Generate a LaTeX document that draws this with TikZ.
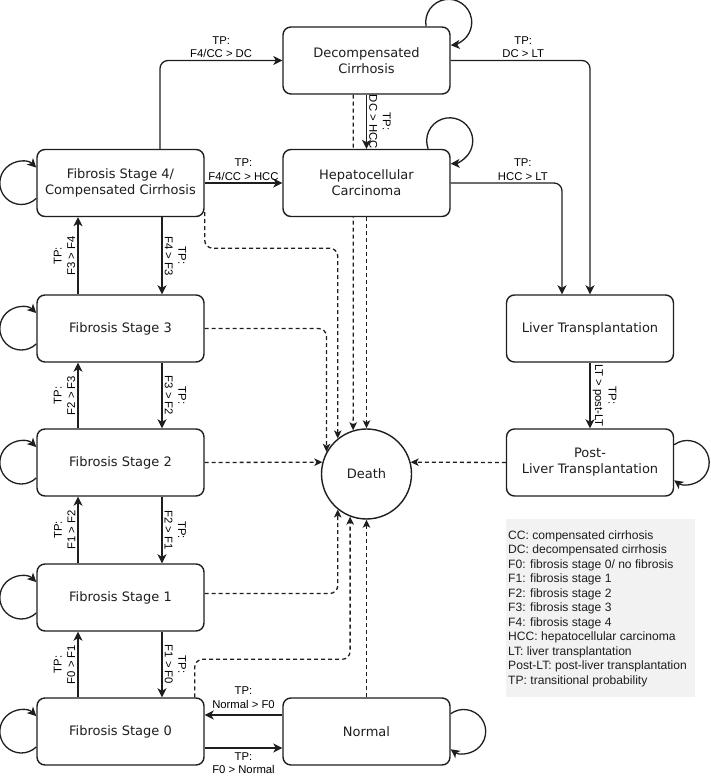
\documentclass[tikz,border=0pt]{standalone}
\usepackage{fontspec}
\setmainfont{DejaVu Sans}
\newfontfamily\lblfont{Liberation Sans}
\usetikzlibrary{arrows.meta,calc}
\definecolor{ink}{RGB}{30,30,30}
\definecolor{legendgray}{RGB}{242,242,242}
\pgfdeclarelayer{background}
\pgfsetlayers{background,main}
\newcommand\myleftloop[1]{\draw[arr] ($(#1.west)+(-15,0)+(-45.8:21.5)$) arc[start angle=-45.8, end angle=-314.2, radius=21.5];}
\newcommand\myrightloop[1]{\draw[arr] ($(#1.east)+(13,0)+(126.2:22)$) arc[start angle=126.2, end angle=-126.2, radius=22];}
\begin{document}
\begin{tikzpicture}[x=1pt,y=1pt,
  box/.style={draw=ink, fill=white, line width=1.4pt, rounded corners=8pt, minimum width=167pt, minimum height=67pt, inner sep=0pt, align=center, text=ink, font=\fontsize{13}{16}\selectfont},
  arr/.style={draw=ink, line width=1.3pt, -{Stealth[length=9pt,width=9pt,inset=2.5pt]}, rounded corners=8pt},
  dsh/.style={draw=ink, line width=1.3pt, -{Stealth[length=8pt,width=7.5pt,inset=2pt]}, rounded corners=8pt, dash pattern=on 4pt off 3pt},
  lbl/.style={font=\lblfont\fontsize{11.3}{13.5}\selectfont, align=center, inner sep=2pt, text=black}]
\useasboundingbox (0,0) rectangle (710,776);

% states
\node[box] (dc) at (366.5,715.5) {Decompensated\\Cirrhosis};
\node[box] (hcc) at (366.5,593) {Hepatocellular\\Carcinoma};
\node[box] (f4) at (120.5,593) {Fibrosis Stage 4/\\Compensated Cirrhosis};
\node[box] (f3) at (120.5,447.5) {Fibrosis Stage 3};
\node[box] (f2) at (120.5,313.5) {Fibrosis Stage 2};
\node[box] (f1) at (120.5,178.5) {Fibrosis Stage 1};
\node[box] (f0) at (120.5,44.5) {Fibrosis Stage 0};
\node[box] (lt) at (590,447.5) {Liver Transplantation};
\node[box] (plt) at (590,313.5) {Post-\\Liver Transplantation};
\node[box] (nor) at (366.5,44.5) {Normal};
\node[circle, draw=ink, fill=white, line width=1.4pt, minimum size=90pt, inner sep=0pt, text=ink, font=\fontsize{13}{16}\selectfont] (death) at (366.5,302) {Death};

% top transitions
\draw[arr] ($(f4.north)+(39.5,0)$) |- (dc.west) node[lbl, pos=0.75, above] {TP:\\F4/CC > DC};
\draw[arr] (f4.east) -- (hcc.west) node[lbl, midway, above] {TP:\\F4/CC > HCC};
\draw[arr] (dc.south) -- (hcc.north) node[lbl, midway, rotate=-90, anchor=south] {TP:\\DC > HCC};
\draw[arr] (dc.east) -| (lt.north) node[lbl, pos=0.26, above] {TP:\\DC > LT};
\draw[arr] (hcc.east) -| ($(lt.north)+(-28,0)$) node[lbl, pos=0.324, above] {TP:\\HCC > LT};
\draw[arr] (lt.south) -- (plt.north) node[lbl, midway, rotate=-90, anchor=south] {TP:\\LT > post-LT};

% fibrosis column
\draw[arr] ($(f3.north)+(-42.5,0)$) -- ($(f4.south)+(-42.5,0)$) node[lbl, midway, rotate=90, anchor=south] {TP:\\F3 > F4};
\draw[arr] ($(f4.south)+(41.5,0)$) -- ($(f3.north)+(41.5,0)$) node[lbl, midway, rotate=-90, anchor=south] {TP:\\F4 > F3};
\draw[arr] ($(f2.north)+(-42.5,0)$) -- ($(f3.south)+(-42.5,0)$) node[lbl, midway, rotate=90, anchor=south] {TP:\\F2 > F3};
\draw[arr] ($(f3.south)+(41.5,0)$) -- ($(f2.north)+(41.5,0)$) node[lbl, midway, rotate=-90, anchor=south] {TP:\\F3 > F2};
\draw[arr] ($(f1.north)+(-42.5,0)$) -- ($(f2.south)+(-42.5,0)$) node[lbl, midway, rotate=90, anchor=south] {TP:\\F1 > F2};
\draw[arr] ($(f2.south)+(41.5,0)$) -- ($(f1.north)+(41.5,0)$) node[lbl, midway, rotate=-90, anchor=south] {TP:\\F2 > F1};
\draw[arr] ($(f0.north)+(-42.5,0)$) -- ($(f1.south)+(-42.5,0)$) node[lbl, midway, rotate=90, anchor=south] {TP:\\F0 > F1};
\draw[arr] ($(f1.south)+(41.5,0)$) -- ($(f0.north)+(41.5,0)$) node[lbl, midway, rotate=-90, anchor=south] {TP:\\F1 > F0};

% normal <-> F0
\draw[arr] ($(nor.west)+(0,16.5)$) -- ($(f0.east)+(0,16.5)$) node[lbl, midway, above, yshift=4pt] {TP:\\Normal > F0};
\draw[arr] ($(f0.east)+(0,-16.5)$) -- ($(nor.west)+(0,-16.5)$) node[lbl, midway, below, yshift=-2pt] {TP:\\F0 > Normal};

% death transitions
\begin{pgfonlayer}{background}
\draw[dsh] ($(dc.south)+(-13.2,0)$) -- (death.107);
\end{pgfonlayer}
\draw[dsh] (hcc.south) -- (death.north);
\draw[dsh] ($(f4.south east)+(0,5)$) -- ++(0,-36) -| (death.129);
\draw[dsh] (f3.east) -| (death.151);
\draw[dsh] (f2.east) -- (death.165);
\draw[dsh] (plt.west) -- (death.15);
\draw[dsh] ($(f1.east)+(0,4)$) -| (death.231);
\draw[dsh] ($(f0.north east)+(-10,0)$) -- ++(0,38) -| (death.249);
\draw[dsh] (nor.north) -- (death.south);

% self loops
\draw[arr] ($(dc.north east)+(-2,4)+(190:23)$) arc[start angle=190, end angle=-85, radius=23];
\draw[arr] ($(hcc.north east)+(-1,8)+(200.4:23)$) arc[start angle=200.4, end angle=-87.5, radius=23];
\myleftloop{f4}
\myleftloop{f3}
\myleftloop{f2}
\myleftloop{f1}
\myleftloop{f0}
\myrightloop{plt}
\myrightloop{nor}

% legend
\fill[legendgray] (506,257) rectangle (695,79);
\node[anchor=north west, inner sep=0pt, align=left, text=ink, font=\lblfont\fontsize{12.1}{14.5}\selectfont] (legend) at (508,245.5) {CC: compensated cirrhosis\\DC: decompensated cirrhosis\\F0: fibrosis stage 0/ no fibrosis\\F1: fibrosis stage 1\\F2: fibrosis stage 2\\F3: fibrosis stage 3\\F4: fibrosis stage 4\\HCC: hepatocellular carcinoma\\LT: liver transplantation\\Post-LT: post-liver transplantation\\TP: transitional probability};
\end{tikzpicture}
\end{document}
